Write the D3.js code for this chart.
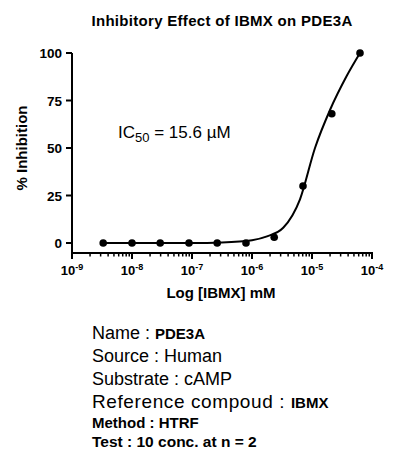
<!DOCTYPE html>
<html><head><meta charset="utf-8">
<script src="https://cdn.jsdelivr.net/npm/d3@7"></script>
<style>body{margin:0;background:#fff}text{font-family:"Liberation Sans",Arial,sans-serif}</style>
</head><body><svg id="c" width="417" height="461"></svg>
<script>
// measured points (log conc, % inhibition)
var logConc = [-8.48, -8.0, -7.53, -7.05, -6.58, -6.1, -5.63, -5.15, -4.67, -4.2];
var inhibition = [0, 0, 0, 0, 0, 0, 3, 30, 68, 100];
// fitted curve
var fitX = [-8.48, -7, -6.5, -6.0, -5.75, -5.48, -5.2, -4.95, -4.7, -4.42, -4.2];
var fitY = [0, 0, 0.3, 1.5, 3.5, 8, 23, 50, 70, 88, 100];
var yTicks = [0, 25, 50, 75, 100];
var xDecades = [-9, -8, -7, -6, -5, -4];
var infoLines = [
  ["Name : ", "PDE3A"], ["Source : Human", ""], ["Substrate : cAMP", ""],
  ["Reference compoud : ", "IBMX"], ["Method : HTRF", ""], ["Test : 10 conc. at n = 2", ""]
];

var svg = d3.select("#c");
var x = d3.scaleLinear().domain([-9, -4]).range([72, 372]);
var y = d3.scaleLinear().domain([0, 100]).range([243, 53]);

svg.append("text").attr("x", 222).attr("y", 26).attr("text-anchor", "middle")
  .attr("font-size", 15).attr("font-weight", "bold").attr("letter-spacing", 0.3).text("Inhibitory Effect of IBMX on PDE3A");

// y axis
var ya = svg.append("g");
ya.append("line").attr("x1", 72).attr("x2", 72).attr("y1", 53).attr("y2", 253).attr("stroke", "#000").attr("stroke-width", 2);
yTicks.forEach(function(t) {
  ya.append("line").attr("x1", 66).attr("x2", 72).attr("y1", y(t)).attr("y2", y(t)).attr("stroke", "#000").attr("stroke-width", 2);
  ya.append("text").attr("x", 62).attr("y", y(t) + 5).attr("text-anchor", "end")
    .attr("font-size", 13.5).attr("font-weight", "bold").text(t);
});
svg.append("text").attr("transform", "translate(27,148) rotate(-90)").attr("text-anchor", "middle")
  .attr("font-size", 15).attr("font-weight", "bold").text("% Inhibition");

// x axis (log)
var xa = svg.append("g");
xa.append("line").attr("x1", 71).attr("x2", 373).attr("y1", 253).attr("y2", 253).attr("stroke", "#000").attr("stroke-width", 2);
xDecades.forEach(function(d, i) {
  xa.append("line").attr("x1", x(d)).attr("x2", x(d)).attr("y1", 253).attr("y2", 259).attr("stroke", "#000").attr("stroke-width", 2);
  var t = xa.append("text").attr("x", x(d)).attr("y", 275).attr("text-anchor", "middle").attr("font-size", 13).attr("font-weight", "bold");
  t.append("tspan").text("10");
  t.append("tspan").attr("dy", -5).attr("font-size", 9).text(d);
  if (i < xDecades.length - 1) {
    for (var m = 2; m < 10; m++) {
      var lx = x(d + Math.log10(m));
      xa.append("line").attr("x1", lx).attr("x2", lx).attr("y1", 253).attr("y2", 256.5).attr("stroke", "#000").attr("stroke-width", 1.5);
    }
  }
});
svg.append("text").attr("x", 221).attr("y", 298).attr("text-anchor", "middle")
  .attr("font-size", 15).attr("font-weight", "bold").text("Log [IBMX] mM");

// fit curve
var line = d3.line().x(function(d) { return x(d[0]); }).y(function(d) { return y(d[1]); }).curve(d3.curveMonotoneX);
svg.append("path").datum(d3.zip(fitX, fitY)).attr("d", line).attr("fill", "none").attr("stroke", "#000").attr("stroke-width", 2);

svg.selectAll("circle.pt").data(d3.zip(logConc, inhibition)).enter().append("circle")
  .attr("cx", function(d) { return x(d[0]); }).attr("cy", function(d) { return y(d[1]); })
  .attr("r", 3.8).attr("fill", "#000");

// IC50 label
var ic = svg.append("text").attr("x", 118).attr("y", 138).attr("font-size", 17);
ic.append("tspan").text("IC");
ic.append("tspan").attr("dy", 4).attr("font-size", 13).text("50");
ic.append("tspan").attr("dy", -4).text(" = 15.6 \u00b5M");

// info block
var sizes = [18, 18, 18, 19, 15, 15.5];
var ys = [339, 362, 385, 408, 428, 447];
infoLines.forEach(function(l, i) {
  var t = svg.append("text").attr("x", 92).attr("y", ys[i]).attr("font-size", sizes[i])
    .attr("font-weight", i >= 4 ? "bold" : "normal").attr("letter-spacing", i == 3 ? 0.6 : 0);
  t.append("tspan").text(l[0]);
  if (l[1]) t.append("tspan").attr("font-size", 15).attr("font-weight", "bold").attr("letter-spacing", 0).text(l[1]);
});
</script></body></html>
